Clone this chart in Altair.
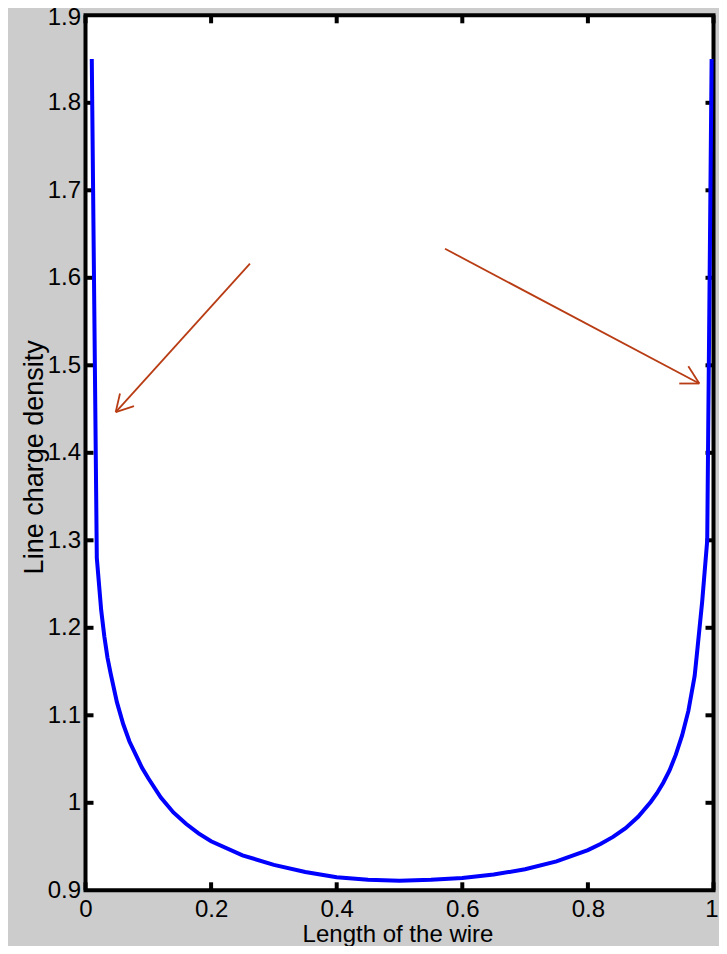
import altair as alt
import pandas as pd

# ---- data ----
wire_x = [0.010, 0.018, 0.025, 0.03, 0.035, 0.04, 0.05, 0.06, 0.07, 0.08, 0.09, 0.10, 0.12,
          0.14, 0.16, 0.18, 0.20, 0.25, 0.30, 0.35, 0.40, 0.45, 0.50, 0.55, 0.60, 0.65,
          0.70, 0.75, 0.80, 0.82, 0.84, 0.86, 0.88, 0.90, 0.91, 0.92, 0.93, 0.94, 0.95,
          0.96, 0.97, 0.975, 0.982, 0.990, 0.997]
density = [1.85, 1.28, 1.22, 1.19, 1.166, 1.148, 1.115, 1.09, 1.07, 1.055, 1.04, 1.028, 1.006,
           0.989, 0.976, 0.965, 0.956, 0.940, 0.929, 0.921, 0.915, 0.912, 0.911, 0.912, 0.914,
           0.918, 0.924, 0.933, 0.946, 0.953, 0.961, 0.971, 0.984, 1.001, 1.011, 1.023, 1.037,
           1.055, 1.077, 1.105, 1.145, 1.18, 1.23, 1.30, 1.85]

x_ticks = [0, 0.2, 0.4, 0.6, 0.8, 1]
y_ticks = [0.9, 1.0, 1.1, 1.2, 1.3, 1.4, 1.5, 1.6, 1.7, 1.8, 1.9]

# annotation arrows (shaft + two head strokes each), in data units
arrow_x1 = [0.2619, 0.0481, 0.0481, 0.5725, 0.9774, 0.9774]
arrow_y1 = [1.6161, 1.4465, 1.4465, 1.6332, 1.4792, 1.4792]
arrow_x2 = [0.0481, 0.0549, 0.0772, 0.9774, 0.9599, 0.9455]
arrow_y2 = [1.4465, 1.4678, 1.4534, 1.4792, 1.4990, 1.4792]

W, H = 628, 875
FONT = "Liberation Sans"

curve_df = pd.DataFrame({"x": wire_x, "y": density})
arrow_df = pd.DataFrame({"x": arrow_x1, "y": arrow_y1, "x2": arrow_x2, "y2": arrow_y2})
xt_df = pd.DataFrame({"x": x_ticks})
yt_df = pd.DataFrame({"y": y_ticks[1:-1]})

xscale = alt.Scale(domain=[0, 1], nice=False, zero=False)
yscale = alt.Scale(domain=[0.9, 1.9], nice=False, zero=False)

x_axis = alt.Axis(values=x_ticks, format="~g", grid=False, ticks=False, tickSize=0,
                  domain=False, labelFont=FONT, labelFontSize=24, labelColor="black",
                  labelPadding=7, labelFlush=False, labelOverlap=False,
                  labelOffset={"condition": {"test": "datum.value == 1", "value": -2}, "value": 0},
                  title="Length of the wire", titleFont=FONT, titleFontSize=24,
                  titleFontWeight="normal", titleColor="black", titleBaseline="alphabetic",
                  titleX=312, titleY=50.7, titleAlign="center")
y_axis = alt.Axis(values=y_ticks, format="~g", grid=False, ticks=False, tickSize=0,
                  domain=False, labelFont=FONT, labelFontSize=24, labelColor="black",
                  labelPadding=5, labelFlush=False, labelOverlap=False,
                  labelOffset={"condition": {"test": "datum.value > 1.85", "value": 2}, "value": 0},
                  title="Line charge density", titleFont=FONT, titleFontSize=27,
                  titleFontWeight="normal", titleColor="black", titleAngle=-90,
                  titleBaseline="alphabetic", titleX=-43.5, titleY=H / 2 + 4,
                  titleAlign="center")

curve = alt.Chart(curve_df).mark_line(color="#0000ff", strokeWidth=4, clip=False).encode(
    x=alt.X("x:Q", scale=xscale, axis=x_axis),
    y=alt.Y("y:Q", scale=yscale, axis=y_axis),
)

arrows = alt.Chart(arrow_df).mark_rule(color="#b83c14", strokeWidth=1.8).encode(
    x=alt.X("x:Q", scale=xscale), y=alt.Y("y:Q", scale=yscale),
    x2="x2:Q", y2="y2:Q",
)

tick_style = dict(color="black", thickness=4, size=8, opacity=1)
bottom_ticks = alt.Chart(xt_df).mark_tick(orient="vertical", **tick_style).encode(
    x=alt.X("x:Q", scale=xscale), y=alt.value(H - 4))
top_ticks = alt.Chart(xt_df).mark_tick(orient="vertical", **tick_style).encode(
    x=alt.X("x:Q", scale=xscale), y=alt.value(4))
left_ticks = alt.Chart(yt_df).mark_tick(orient="horizontal", **tick_style).encode(
    y=alt.Y("y:Q", scale=yscale), x=alt.value(4))
right_ticks = alt.Chart(yt_df).mark_tick(orient="horizontal", **tick_style).encode(
    y=alt.Y("y:Q", scale=yscale), x=alt.value(W - 4))

chart = alt.layer(bottom_ticks, top_ticks, left_ticks, right_ticks, arrows, curve).properties(
    width=W, height=H,
    background="#cccccc",
    padding={"left": 77.5, "top": 7.3, "right": 5.5, "bottom": 55.7},
    autosize=alt.AutoSizeParams(type="none"),
).configure_view(
    stroke="black", strokeWidth=4, fill="white"
)

chart.save("out.html", embed_options={"renderer": "svg", "actions": False})
